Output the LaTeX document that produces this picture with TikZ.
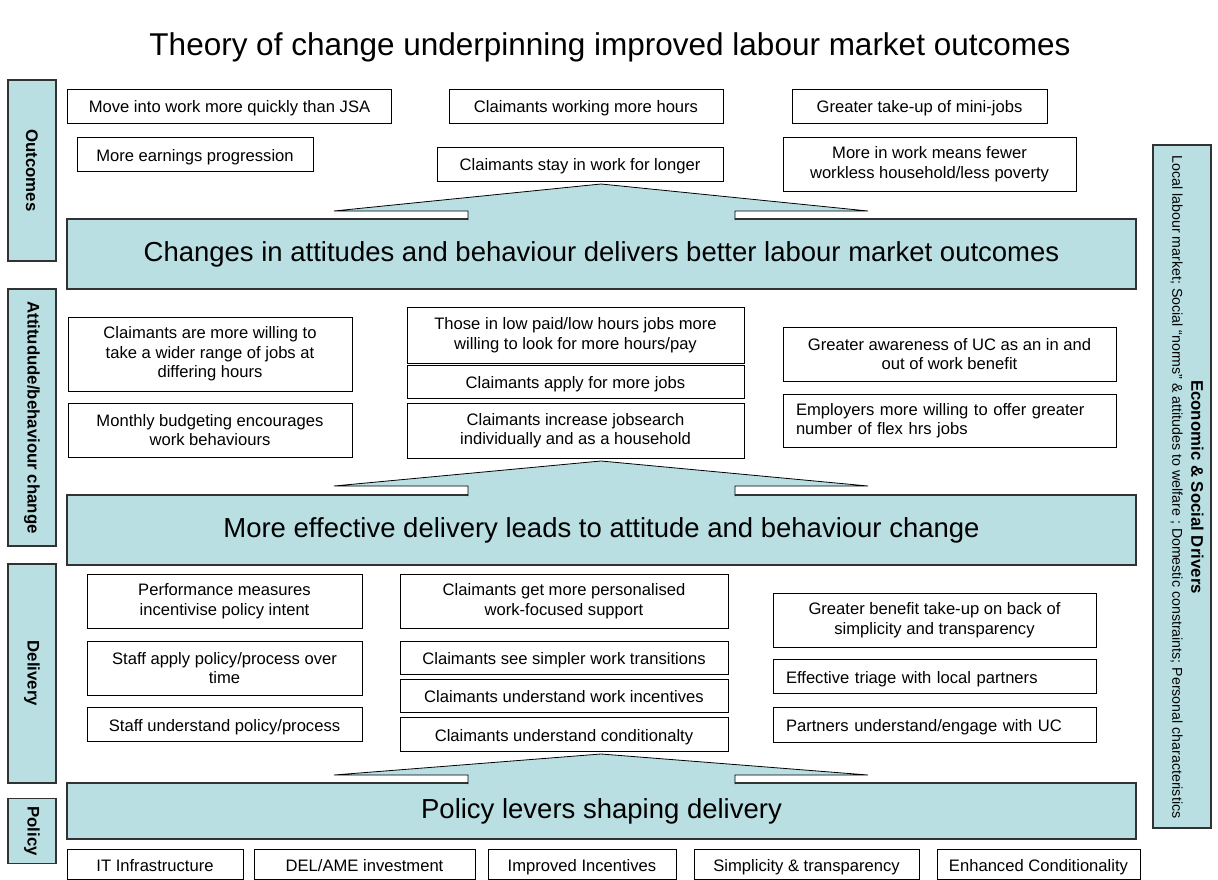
\documentclass[tikz,border=0pt]{standalone}
\usepackage{fontspec}
\setmainfont{Liberation Sans}
\definecolor{ucblue}{RGB}{185,223,227}
\definecolor{edgegrey}{RGB}{50,50,50}
\tikzset{
	sbox/.style = {draw=black, line width=0.8pt, fill=white, align=center, inner sep=2pt, font=\fontsize{16.6}{19.5}\selectfont},
	oneline/.style = {text height=14pt, text depth=0pt},
	lbox/.style = {sbox, align=left, inner xsep=13pt},
	bigbox/.style = {draw=edgegrey, line width=1.3pt, fill=ucblue, font=\fontsize{27.5}{32}\selectfont},
	sidebox/.style = {draw=edgegrey, line width=1.3pt, fill=ucblue, rotate=-90, font=\bfseries\fontsize{16.8}{20}\selectfont},
	arrowshape/.style = {draw=black, line width=0.8pt, fill=ucblue, line join=miter},
}
\begin{document}
\begin{tikzpicture}[x=1pt, y=-1pt]
	\useasboundingbox (0,0) rectangle (1218,880);
	\node[font=\fontsize{31.5}{36}\selectfont] (title) at (610,47) {Theory of change underpinning improved labour market outcomes};

	\node[sidebox, minimum width=181pt, minimum height=48pt] (lout) at (32,170.5) {Outcomes};
	\node[sidebox, minimum width=257pt, minimum height=48pt] (latt) at (32,417.5) {Attitudude/behaviour change};
	\node[sidebox, minimum width=219pt, minimum height=48pt] (ldel) at (32,673.5) {Delivery};
	\node[sidebox, minimum width=65pt, minimum height=48pt] (lpol) at (32,831) {Policy};
	\node[sidebox, minimum width=683pt, minimum height=58pt] (drv) at (1182,486.5) {};
	\node[rotate=-90, align=center, font=\fontsize{14.2}{19}\selectfont] (drvtext) at (1187,487) {{\bfseries\fontsize{16.8}{19}\selectfont Economic \& Social Drivers}\\Local labour market; Social “norms” \& attitudes to welfare ; Domestic constraints; Personal characteristics};

	\node[bigbox, minimum width=1069pt, minimum height=70pt] (b1) at (601.5,254) {Changes in attitudes and behaviour delivers better labour market outcomes};
	\node[bigbox, minimum width=1069pt, minimum height=70pt] (b2) at (601.5,530) {More effective delivery leads to attitude and behaviour change};
	\node[bigbox, minimum width=1069pt, minimum height=56pt] (b3) at (601.5,811) {Policy levers shaping delivery};

	\foreach \t/\b/\n in {184/211/219, 461/486/495, 754/775/783}
		\draw[arrowshape] (468,{\n+1}) -- (468,\b) -- (334,\b) -- (601,\t) -- (868,\b) -- (735,\b) -- (735,{\n+1});

	\node[sbox, oneline, minimum width=324pt, minimum height=34pt] (jsa) at (229.5,106) {Move into work more quickly than JSA};
	\node[sbox, oneline, minimum width=274pt, minimum height=34pt] (hours) at (586,106) {Claimants working more hours};
	\node[sbox, oneline, minimum width=255pt, minimum height=34pt] (mini) at (919.5,106) {Greater take-up of mini-jobs};
	\node[sbox, oneline, minimum width=236pt, minimum height=34pt] (earn) at (195,154) {More earnings progression};
	\node[sbox, oneline, minimum width=286pt, minimum height=34pt] (stay) at (580,164) {Claimants stay in work for longer};
	\node[sbox, minimum width=293pt, minimum height=54pt] (fewer) at (929.5,164) {More in work means fewer\\workless household/less poverty};

	\node[sbox, minimum width=284pt, minimum height=74pt] (willing) at (210,354) {Claimants are more willing to\\take a wider range of jobs at\\differing hours};
	\node[sbox, minimum width=284pt, minimum height=54pt] (budget) at (210,430) {Monthly budgeting encourages\\work behaviours};
	\node[sbox, minimum width=337pt, minimum height=56pt] (lowpaid) at (575.5,335) {Those in low paid/low hours jobs more\\willing to look for more hours/pay};
	\node[sbox, oneline, minimum width=337pt, minimum height=33pt] (apply) at (575.5,381.5) {Claimants apply for more jobs};
	\node[sbox, minimum width=337pt, minimum height=55pt] (search) at (575.5,430.5) {Claimants increase jobsearch\\individually and as a household};
	\node[sbox, minimum width=333pt, minimum height=54pt] (aware) at (949.5,354) {Greater awareness of UC as an in and\\out of work benefit};
	\node[lbox, text width=307pt, minimum height=53pt] (employ) at (949.5,420.5) {Employers more willing to offer greater\\number of flex hrs jobs};

	\node[sbox, minimum width=275pt, minimum height=54pt] (perf) at (224.5,601) {Performance measures\\incentivise policy intent};
	\node[sbox, minimum width=275pt, minimum height=54pt] (staffapply) at (224.5,668) {Staff apply policy/process over\\time};
	\node[sbox, oneline, minimum width=275pt, minimum height=34pt] (staffund) at (224.5,724) {Staff understand policy/process};
	\node[sbox, minimum width=328pt, minimum height=54pt] (perso) at (564,601) {Claimants get more personalised\\work-focused support};
	\node[sbox, oneline, minimum width=328pt, minimum height=33pt] (trans) at (564,657.5) {Claimants see simpler work transitions};
	\node[sbox, oneline, minimum width=328pt, minimum height=33pt] (incent) at (564,695.5) {Claimants understand work incentives};
	\node[sbox, oneline, minimum width=328pt, minimum height=34pt] (cond) at (564,734) {Claimants understand conditionalty};
	\node[sbox, minimum width=323pt, minimum height=54pt] (benefit) at (934.5,620) {Greater benefit take-up on back of\\simplicity and transparency};
	\node[lbox, oneline, text width=297pt, minimum height=34pt] (triage) at (934.5,676) {Effective triage with local partners};
	\node[lbox, oneline, text width=297pt, minimum height=35pt] (partners) at (934.5,724.5) {Partners understand/engage with UC};

	\node[sbox, oneline, minimum width=176pt, minimum height=30pt] (it) at (155,864) {IT Infrastructure};
	\node[sbox, oneline, minimum width=221pt, minimum height=30pt] (delame) at (364.5,864) {DEL/AME investment};
	\node[sbox, oneline, minimum width=188pt, minimum height=30pt] (improved) at (582,864) {Improved Incentives};
	\node[sbox, oneline, minimum width=225pt, minimum height=30pt] (simple) at (806.5,864) {Simplicity \& transparency};
	\node[sbox, oneline, minimum width=203pt, minimum height=30pt] (enhanced) at (1038.5,864) {Enhanced Conditionality};
\end{tikzpicture}
\end{document}
